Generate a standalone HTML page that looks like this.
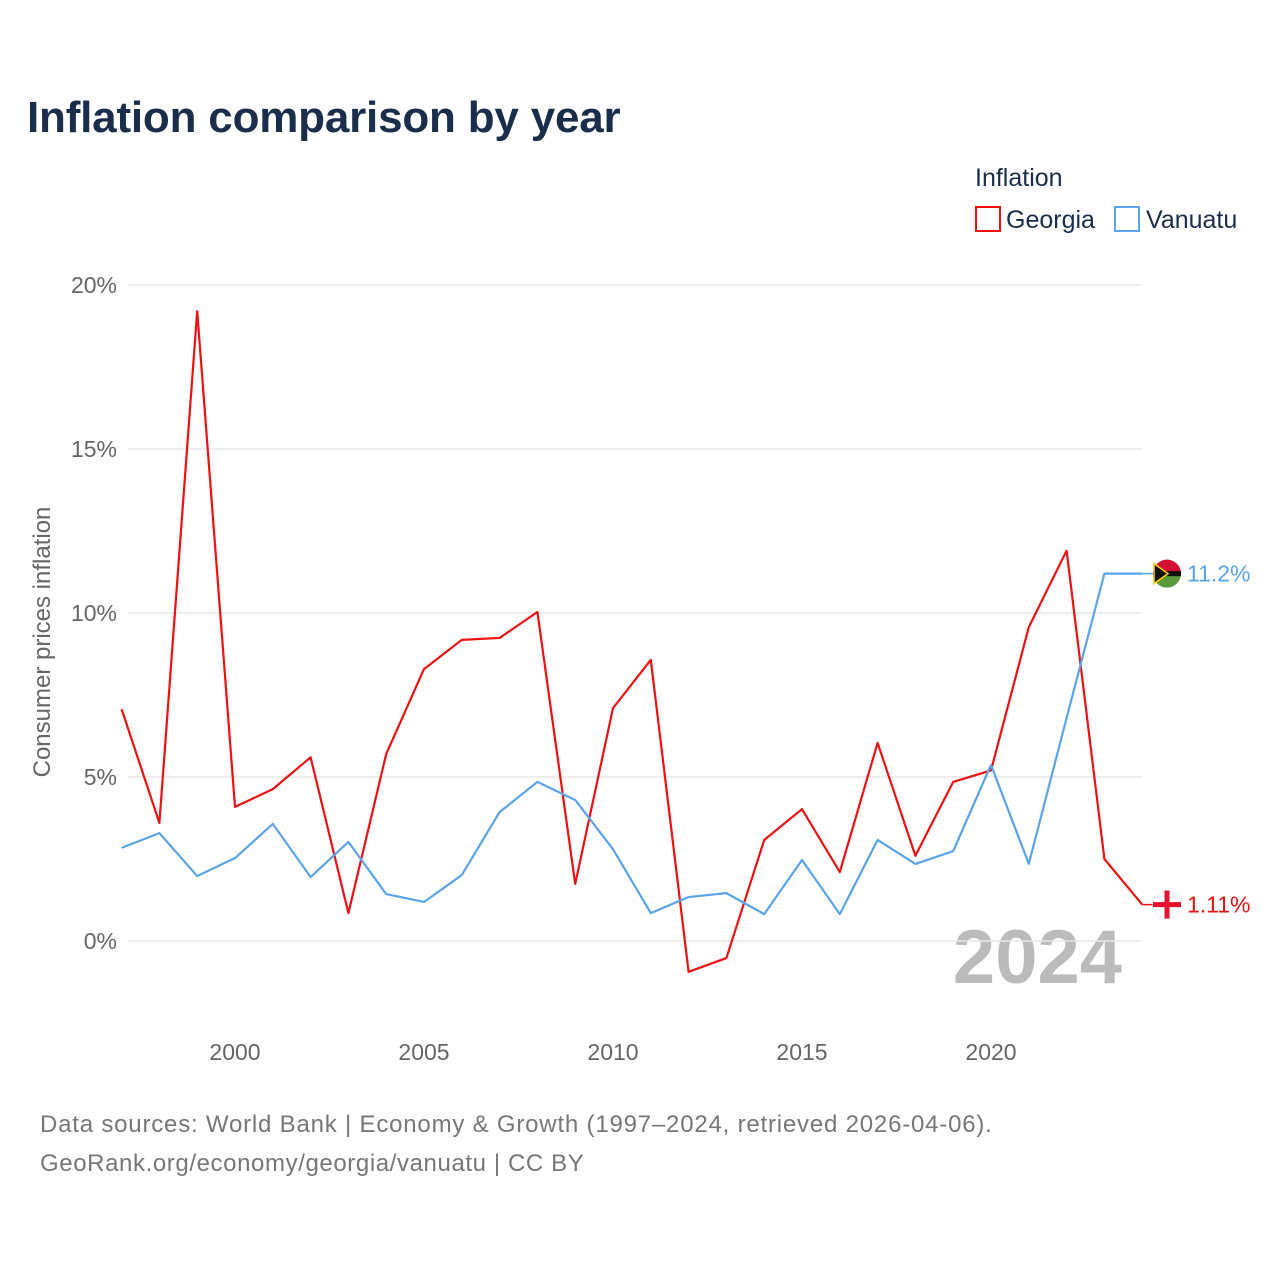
<!DOCTYPE html>
<html><head><meta charset="utf-8"><style>
body{margin:0;background:#fff;font-family:"Liberation Sans",sans-serif;}
</style></head><body>
<svg id="chart" width="1280" height="1280" viewBox="0 0 1280 1280" xmlns="http://www.w3.org/2000/svg" font-family="Liberation Sans, sans-serif">
<rect width="1280" height="1280" fill="#fff"/>
<text x="27" y="132" font-size="44" font-weight="bold" fill="#1a2e4c" letter-spacing="-0.2">Inflation comparison by year</text>
<text x="975" y="186" font-size="25" fill="#1a2e4c">Inflation</text>
<g><rect x="976" y="207" width="24" height="24" fill="none" stroke="#ee1111" stroke-width="2"/><text x="1006" y="228" font-size="25" fill="#1a2e4c">Georgia</text></g>
<g><rect x="1115" y="207" width="24" height="24" fill="none" stroke="#5aa5e8" stroke-width="2"/><text x="1146" y="228" font-size="25" fill="#1a2e4c">Vanuatu</text></g>
<text transform="translate(50,642) rotate(-90)" text-anchor="middle" font-size="24" fill="#666">Consumer prices inflation</text>
<text x="1122" y="983" text-anchor="end" font-size="76" font-weight="bold" fill="#bbb">2024</text>
<g id="grid"></g><g id="series"></g>
<text x="40" y="1132" font-size="24" fill="#777" letter-spacing="0.8">Data sources: World Bank | Economy &amp; Growth (1997–2024, retrieved 2026-04-06).</text>
<text x="40" y="1171" font-size="24" fill="#777" letter-spacing="0.6">GeoRank.org/economy/georgia/vanuatu | CC BY</text>
</svg>
<script>
const years=[1997,1998,1999,2000,2001,2002,2003,2004,2005,2006,2007,2008,2009,2010,2011,2012,2013,2014,2015,2016,2017,2018,2019,2020,2021,2022,2023,2024];
const georgia=[7.07,3.6,19.2,4.09,4.63,5.6,0.85,5.7,8.29,9.18,9.24,10.03,1.74,7.1,8.57,-0.94,-0.52,3.08,4.02,2.1,6.04,2.6,4.85,5.2,9.57,11.9,2.5,1.11];
const vanuatu=[2.84,3.29,1.98,2.53,3.57,1.95,3.02,1.43,1.19,2.01,3.93,4.85,4.3,2.8,0.85,1.34,1.46,0.82,2.47,0.82,3.08,2.35,2.74,5.37,2.35,6.8,11.2,11.2];
const yTicks=[0,5,10,15,20];
const xTicks=[2000,2005,2010,2015,2020];
const NS="http://www.w3.org/2000/svg";
const x=v=>121.6+(v-1997)*37.8;
const y=v=>941-v*32.8;
function el(t,a,p){const e=document.createElementNS(NS,t);for(const k in a)e.setAttribute(k,a[k]);p.appendChild(e);return e;}
const grid=document.getElementById('grid'),ser=document.getElementById('series');
yTicks.forEach(t=>{
 const l=el('line',{x1:128,x2:1142,y1:y(t),y2:y(t),stroke:'#e8e8e8','stroke-width':1.5},grid);
 
 
 const tx=el('text',{x:117,y:y(t)+8,'text-anchor':'end','font-size':23,fill:'#666'},grid);tx.textContent=t+'%';
 
 
});
xTicks.forEach(t=>{
 const tx=el('text',{x:x(t),y:1060,'text-anchor':'middle','font-size':23,fill:'#666'},grid);tx.textContent=t;
 
 
});
function line(vals,color,name){
 const p=el('polyline',{points:vals.map((v,i)=>x(years[i])+','+y(v)).join(' '),fill:'none',stroke:color,'stroke-width':2.2,'stroke-linejoin':'round'},ser);
 
 
 const last=vals[vals.length-1];
 el('line',{x1:x(years[years.length-1]),x2:1160,y1:y(last),y2:y(last),stroke:color,'stroke-width':1.5},ser);
 const t=el('text',{x:1187,y:y(last)+8,'font-size':23,fill:color},ser);
 t.textContent=(last>=10?last.toFixed(1):last.toFixed(2))+'%';
 
 
 return y(last);
}
const gy=line(georgia,'#ee1111','georgia-line');
const vy=line(vanuatu,'#5aa5e8','vanuatu-line');
const fv=el('g',{},ser);


el('circle',{cx:1167,cy:vy,r:14,fill:'#5a9a3a'},fv);
el('path',{d:`M1153 ${vy} A14 14 0 0 1 1181 ${vy} Z`,fill:'#d21034'},fv);
el('rect',{x:1153,y:vy-2.5,width:28,height:5,fill:'#111'},fv);
el('path',{d:`M1154 ${vy-10} L1168 ${vy} L1154 ${vy+10} Z`,fill:'#111',stroke:'#fdce12','stroke-width':1.5},fv);
const fg=el('g',{},ser);


el('circle',{cx:1167,cy:gy,r:14,fill:'#fff',stroke:'#eee'},fg);
el('rect',{x:1153,y:gy-2.5,width:28,height:5,fill:'#e8112d'},fg);
el('rect',{x:1164.5,y:gy-14,width:5,height:28,fill:'#e8112d'},fg);
</script>
</body></html>
